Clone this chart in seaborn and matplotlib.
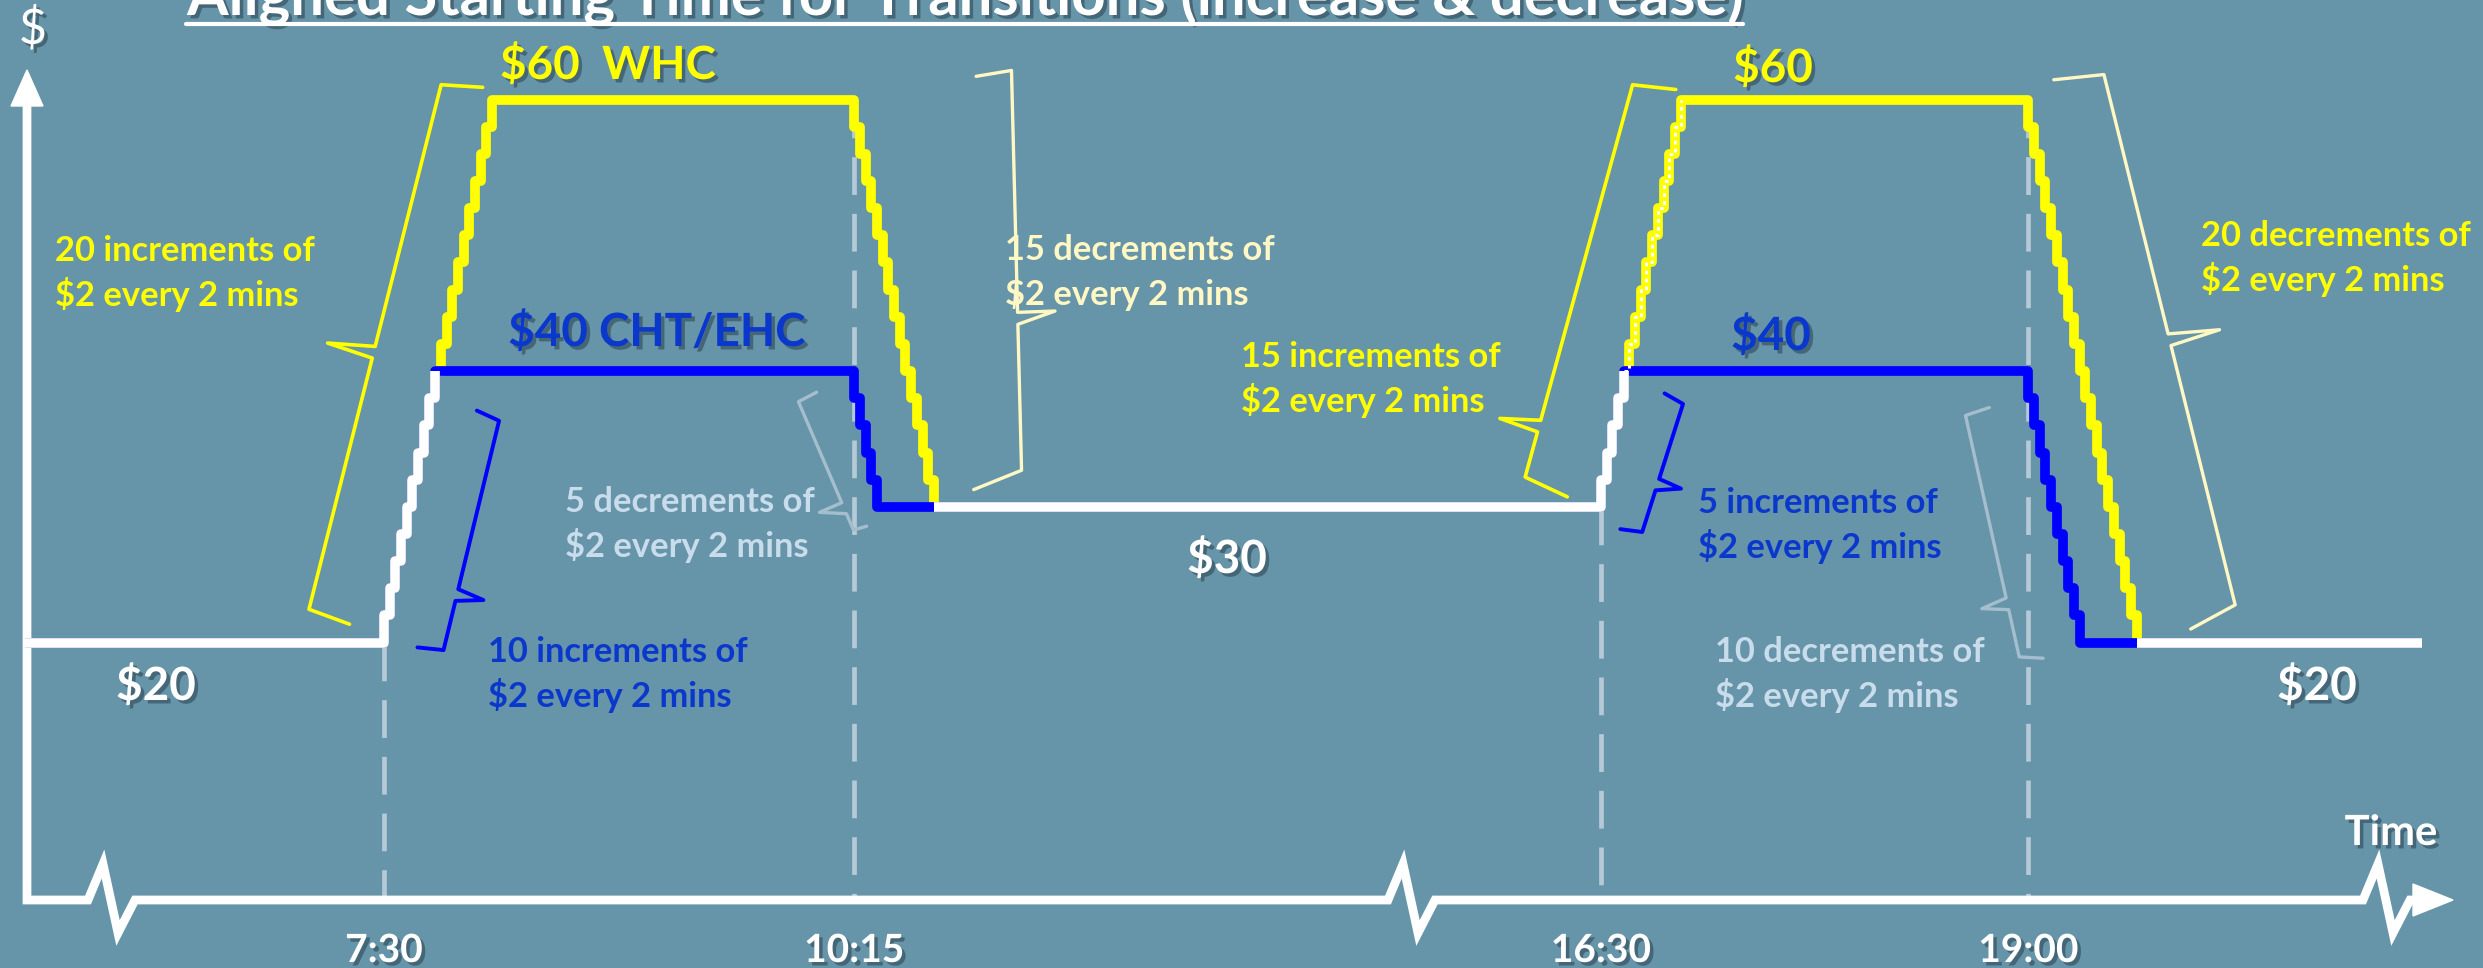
import matplotlib
matplotlib.use("Agg")
import numpy as np
import pandas as pd
import matplotlib.pyplot as plt
import matplotlib.patheffects as pe
from matplotlib.patches import Polygon
import seaborn as sns

# ---------------- data ----------------
TARIFFS = ["WHC", "CHT/EHC"]
TRANSITION_TIMES = ["7:30", "10:15", "16:30", "19:00"]
# price level before the first transition and after each transition ($)
WHC_LEVELS = [20, 60, 30, 60, 20]
CHT_EHC_LEVELS = [20, 40, 30, 40, 20]
STEP_DOLLARS = 2
STEP_MINUTES = 2
PERIOD_START = "5:24"
PERIOD_END = "21:18"
TIME_TICKS = ["7:30", "10:15", "16:30", "19:00"]
TITLE = "Aligned Starting Time for Transitions (increase & decrease)"

# ---------------- layout / style ----------------
W, H = 2483, 968
BG = "#6694a8"
YELLOW = "#ffff00"
BLUE = "#0000ff"
BLUE_TXT = "#0a37cc"
CREAM = "#fff8c4"
PALE = "#c9dcec"
GREY_BRACE = "#a5bece"
GUIDE = "#b5c9d6"
PX_PER_MIN = 2.85
X0 = 315.3
X1 = X0 + W / PX_PER_MIN
HIDE_FROM, HIDE_SPAN = 816, 113      # compressed stretch of the time axis
Y0, Y1 = -3.97, 67.33
AXIS_Y_PX = 900
NOTE_SIZE = 24.8

sns.set_theme(style="white")
plt.rcParams["font.family"] = ["Lato", "DejaVu Sans"]


def minutes(s):
    h, m = s.split(":")
    return int(h) * 60 + int(m)


def xpos(t):
    t = np.asarray(t, dtype=float)
    return np.where(t < HIDE_FROM, t, t - HIDE_SPAN)


def schedule(levels):
    """Stepwise price path: one step of STEP_DOLLARS every STEP_MINUTES."""
    times, prices = [minutes(PERIOD_START)], [levels[0]]
    for tr, lo, hi in zip(TRANSITION_TIMES, levels[:-1], levels[1:]):
        n = abs(hi - lo) // STEP_DOLLARS
        sgn = 1 if hi > lo else -1
        for k in range(1, n + 1):
            times.append(minutes(tr) + (k - 1) * STEP_MINUTES)
            prices.append(lo + sgn * k * STEP_DOLLARS)
    times.append(minutes(PERIOD_END))
    prices.append(levels[-1])
    return np.array(times), np.array(prices)


def price_at(times, prices, t):
    return prices[np.searchsorted(times, t, side="right") - 1]


def n_steps(levels, i):
    return abs(levels[i + 1] - levels[i]) // STEP_DOLLARS


whc_t, whc_p = schedule(WHC_LEVELS)
cht_t, cht_p = schedule(CHT_EHC_LEVELS)
whc_df = pd.DataFrame({"x": xpos(whc_t), "price": whc_p})
cht_df = pd.DataFrame({"x": xpos(cht_t), "price": cht_p})

# stretches where both tariffs carry the same price are drawn in white
grid = np.union1d(whc_t, cht_t)
pw = price_at(whc_t, whc_p, grid)
pc = price_at(cht_t, cht_p, grid)
same = pw == pc
run = np.cumsum(np.r_[True, same[1:] != same[:-1]])
shared_df = pd.DataFrame({"x": xpos(grid), "price": pw, "run": run})[same]

# ---------------- figure ----------------
fig = plt.figure(figsize=(W / 100, H / 100), dpi=100, facecolor=BG)
ax = fig.add_axes([0, 0, 1, 1])
ax.set_facecolor(BG)
ax.set_xlim(X0, X1)
ax.set_ylim(Y0, Y1)
ax.axis("off")

axis_price = Y1 - AXIS_Y_PX / H * (Y1 - Y0)


def fr(x, y):
    """pixel position (y measured downwards) -> axes fraction"""
    return x / W, 1 - y / H


def pix(t, p):
    x, y = ax.transData.transform((float(xpos(t)), p))
    return np.array([x, H - y])


line_kw = dict(drawstyle="steps-post", linewidth=7, solid_joinstyle="round",
               solid_capstyle="butt", legend=False, estimator=None, sort=False, ax=ax)
sns.lineplot(data=whc_df, x="x", y="price", color=YELLOW, zorder=3, **line_kw)
sns.lineplot(data=cht_df, x="x", y="price", color=BLUE, zorder=4, **line_kw)
sns.lineplot(data=shared_df, x="x", y="price", units="run", color="white", zorder=5, **line_kw)

# white speckle along the afternoon WHC climb above the CHT/EHC level
t_aft = minutes(TRANSITION_TIMES[2])
climb = whc_df[(whc_t >= t_aft) & (whc_t < t_aft + 60) & (whc_p >= CHT_EHC_LEVELS[3])]
sns.lineplot(data=climb, x="x", y="price", color="white", zorder=6, ax=ax,
             drawstyle="steps-post", linewidth=2.2, linestyle=(0, (1.2, 1.4)),
             legend=False, estimator=None, sort=False)

# dashed guides at the transition times
for tr, a, b in zip(TRANSITION_TIMES, WHC_LEVELS[:-1], CHT_EHC_LEVELS[:-1]):
    xv = float(xpos(minutes(tr)))
    ax.plot([xv, xv], [max(a, b), axis_price], color=GUIDE, lw=3.4,
            dashes=(8, 4), zorder=1, solid_capstyle="butt")

# ---------------- axes with breaks and arrows ----------------
brk = (HIDE_FROM - X0) * PX_PER_MIN


def zig(cx):
    return [(cx - 39, AXIS_Y_PX), (cx - 24, 864), (cx - 9, 933), (cx + 8, AXIS_Y_PX)]


axis_pts = [(27, 103), (27, AXIS_Y_PX)] + zig(127) + zig(brk) + zig(2402) + [(2420, AXIS_Y_PX)]
ax.plot(*zip(*[fr(*p) for p in axis_pts]), transform=ax.transAxes, color="white",
        lw=6.3, solid_joinstyle="miter", solid_capstyle="butt", zorder=2)
ax.add_patch(Polygon([fr(27, 70), fr(11, 106), fr(43, 106)], closed=True,
                     transform=ax.transAxes, color="white", zorder=2))
ax.add_patch(Polygon([fr(2453, AXIS_Y_PX), fr(2413, 884), fr(2413, 916)], closed=True,
                     transform=ax.transAxes, color="white", zorder=2))


# ---------------- curly braces ----------------
def brace(start, end, side, g0, e0, g1, e1, f, tip, hooks, color, lw=2.5):
    S, E = pix(*start), pix(*end)
    u = (E - S) / np.linalg.norm(E - S)
    n = np.array([u[1], -u[0]])
    if np.sign(n[0]) != side:
        n = -n
    A = S + n * g0 + u * e0
    B = E + n * g1 + u * e1
    v = (B - A) / np.linalg.norm(B - A)
    base = A + (B - A) * f
    h0, h1, s0, s1 = hooks
    pts = [A - n * h0 - v * s0, A, base - v * 6, base + n * tip, base + v * 6,
           B, B - n * h1 + v * s1]
    ax.plot(*zip(*[fr(*p) for p in pts]), transform=ax.transAxes, color=color,
            lw=lw, solid_joinstyle="round", solid_capstyle="round", zorder=2)


def ramp(levels, i):
    t0 = minutes(TRANSITION_TIMES[i])
    return (t0, levels[i]), (t0 + (n_steps(levels, i) - 1) * STEP_MINUTES, levels[i + 1])


L, R = -1, 1
brace(*ramp(WHC_LEVELS, 0), L, 80, 18, 53, 4.5, 0.49, 47, (43, 41, 6.7, 5.6), YELLOW, 2.6)
brace(*ramp(CHT_EHC_LEVELS, 0), R, 60, 3.7, 72, -37, 0.24, 27, (26, 24, 2.2, 5.9), BLUE, 2.8)
brace(*ramp(WHC_LEVELS, 1), R, 160, 1.7, 93, -19, 0.62, 38, (36, 49, 1, 9.9), CREAM, 2.4)
brace(*ramp(CHT_EHC_LEVELS, 1), L, 60, 21, 27, 19, 0.83, 25, (21, 14, 6.5, -1.6), GREY_BRACE, 2.4)
brace(*ramp(WHC_LEVELS, 2), L, 80, 14.6, 50, 5.2, 0.13, 40, (46, 43, 11.3, 3.7), YELLOW, 2.6)
brace(*ramp(CHT_EHC_LEVELS, 2), R, 45, -18, 64, -22.6, 0.37, 24, (22, 21, 0.8, 7.4), BLUE, 2.8)
brace(*ramp(WHC_LEVELS, 3), R, 79, -9.7, 104, -17.7, 0.5, 51, (50, 49, 4.7, 15), CREAM, 2.4)
brace(*ramp(CHT_EHC_LEVELS, 3), L, 70, 32, 62, 2.9, 0.78, 26, (25, 23, 3.4, 5.7), GREY_BRACE, 2.4)

# ---------------- text ----------------
shadow = [pe.withSimplePatchShadow(offset=(2.5, -2.5), shadow_rgbFace="#1e2f3a", alpha=0.45)]


def label(x, y, s, color, size, ha="left", va="baseline", weight="bold", fx=None):
    return ax.text(*fr(x, y), s, transform=ax.transAxes, color=color, fontsize=size,
                   ha=ha, va=va, fontweight=weight, path_effects=fx, zorder=7)


def note(x, y, count, word, color):
    label(x, y, f"{count} {word} of", color, NOTE_SIZE)
    label(x, y + 45, f"${STEP_DOLLARS} every {STEP_MINUTES} mins", color, NOTE_SIZE)


note(55, 261, n_steps(WHC_LEVELS, 0), "increments", YELLOW)
note(488, 662, n_steps(CHT_EHC_LEVELS, 0), "increments", BLUE_TXT)
note(565, 512, n_steps(CHT_EHC_LEVELS, 1), "decrements", PALE)
note(1005, 260, n_steps(WHC_LEVELS, 1), "decrements", CREAM)
note(1241, 367, n_steps(WHC_LEVELS, 2), "increments", YELLOW)
note(1698, 513, n_steps(CHT_EHC_LEVELS, 2), "increments", BLUE_TXT)
note(1715, 662, n_steps(CHT_EHC_LEVELS, 3), "decrements", PALE)
note(2201, 246, n_steps(WHC_LEVELS, 3), "decrements", YELLOW)

label(608, 79, f"${WHC_LEVELS[1]}  {TARIFFS[0]}", YELLOW, 33, ha="center", fx=shadow)
label(657, 346, f"${CHT_EHC_LEVELS[1]} {TARIFFS[1]}", BLUE_TXT, 33, ha="center", fx=shadow)
label(1227, 573, f"${WHC_LEVELS[2]}", "white", 33, ha="center", fx=shadow)
label(156, 700, f"${WHC_LEVELS[0]}", "white", 33, ha="center", fx=shadow)
label(2317, 700, f"${WHC_LEVELS[4]}", "white", 33, ha="center", fx=shadow)
label(1773, 82, f"${WHC_LEVELS[3]}", YELLOW, 33, ha="center", fx=shadow)
label(1771, 350, f"${CHT_EHC_LEVELS[3]}", BLUE_TXT, 33, ha="center", fx=shadow)

for tick in TIME_TICKS:
    xv = float(xpos(minutes(tick)))
    ax.text(xv, fr(0, 962)[1], tick, transform=ax.get_xaxis_transform(), color="white",
            fontsize=28, fontweight="bold", ha="center", va="baseline",
            path_effects=shadow, zorder=7)
label(2391, 845, "Time", "white", 30, ha="center", fx=shadow)
label(33, 29, "$", "white", 35, ha="center", va="center", weight="normal", fx=shadow)

# title, sized to span its underline
title = label(965, 15, TITLE, "white", 38, ha="center", fx=shadow)
fig.canvas.draw()
bb = title.get_window_extent()
title.set_fontsize(38 * (1743 - 186) / bb.width)
ax.plot(*zip(fr(186, 24), fr(1743, 24)), transform=ax.transAxes, color="white", lw=3, zorder=7)

fig.savefig("out.png", dpi=100, facecolor=BG)
